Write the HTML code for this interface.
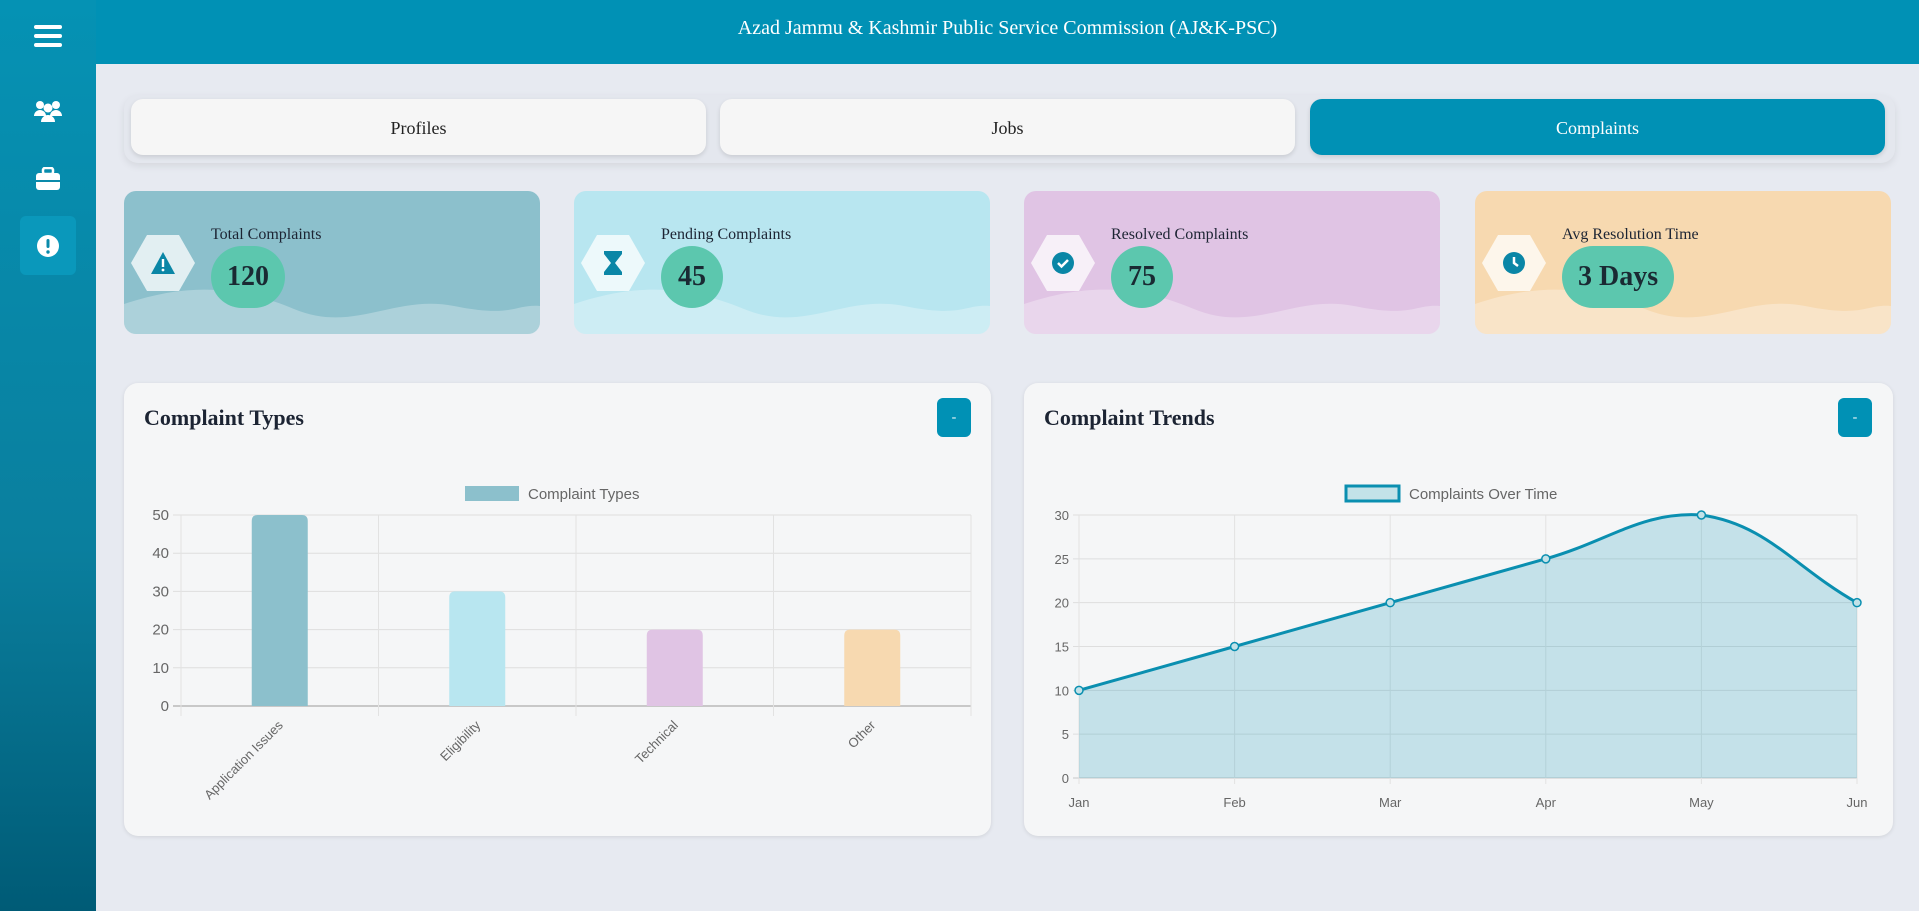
<!DOCTYPE html>
<html><head><meta charset="utf-8">
<style>
*{box-sizing:border-box;margin:0;padding:0}
body{width:1919px;height:911px;overflow:hidden;background:#e7eaf1;font-family:"Liberation Serif",serif;position:relative}
#sidebar{position:absolute;left:0;top:0;width:96px;height:911px;background:linear-gradient(#0592b4,#0a7f9e 60%,#005b76)}
.sicon{position:absolute;left:20px;width:56px;height:56px;display:flex;align-items:center;justify-content:center;border-radius:6px}
#header{position:absolute;left:96px;top:0;width:1823px;height:64px;background:#0091b5;color:#fff;font-size:20px;text-align:center;line-height:56px}
#tabbar{position:absolute;left:124px;top:95px;width:1771px;height:68px;border-radius:14px;background:#e4e7ee;box-shadow:0 3px 8px rgba(0,0,0,.08)}
.tab{position:absolute;top:99px;width:575px;height:56px;border-radius:12px;background:#f6f6f6;box-shadow:0 2px 5px rgba(0,0,0,.12);font-size:18px;color:#222;text-align:center;line-height:58px}
.stat{position:absolute;top:191px;width:416px;height:143px;border-radius:12px;overflow:hidden}
.stat svg.wave{position:absolute;left:0;bottom:0}
.hex{position:absolute;left:7px;top:44px;width:64px;height:56px;clip-path:polygon(25% 0,75% 0,100% 50%,75% 100%,25% 100%,0 50%);background:rgba(255,255,255,.75);display:flex;align-items:center;justify-content:center}
.slabel{position:absolute;left:87px;top:35px;font-size:16px;color:#1c2433}
.sval{position:absolute;left:87px;top:55px;height:62px;padding:0 16px;min-width:62px;border-radius:31px;background:#5cc7ae;font-size:28px;font-weight:bold;color:#1a2a33;line-height:62px;text-align:center}
.card{position:absolute;top:383px;height:453px;border-radius:14px;background:#f5f6f7;box-shadow:0 1px 4px rgba(0,0,0,.1)}
.ctitle{position:absolute;left:20px;top:22px;font-size:22px;font-weight:bold;color:#1c2433}
.cbtn{position:absolute;top:15px;width:34px;height:39px;border-radius:6px;background:#0091b5;color:#fff;text-align:center;line-height:39px;font-size:14px}
svg text{font-family:"Liberation Sans",sans-serif}
</style></head><body>
<div id="sidebar">
 <div class="sicon" style="top:8px"><svg width="28" height="24"><rect y="1" width="28" height="4" rx="2" fill="#fff"/><rect y="10" width="28" height="4" rx="2" fill="#fff"/><rect y="19" width="28" height="4" rx="2" fill="#fff"/></svg></div>
 <div class="sicon" style="top:83px"><svg width="30" height="24"><circle cx="7" cy="6" r="4" fill="#fff"/><circle cx="23" cy="6" r="4" fill="#fff"/><circle cx="15" cy="9" r="4.5" fill="#fff"/><path d="M1 17a6 6 0 0 1 12 0zM17 17a6 6 0 0 1 12 0zM8 23a7 7 0 0 1 14 0z" fill="#fff"/></svg></div>
 <div class="sicon" style="top:151px"><svg width="26" height="24"><rect x="8" y="1" width="10" height="6" rx="2" fill="none" stroke="#fff" stroke-width="2.5"/><rect x="1" y="6" width="24" height="17" rx="3" fill="#fff"/><rect x="1" y="13" width="24" height="2" fill="#0a8aaa"/></svg></div>
 <div class="sicon" style="top:216px;background:#0a98bb;height:59px"><svg width="24" height="24"><circle cx="12" cy="12" r="11" fill="#fff"/><rect x="10.5" y="5" width="3" height="9" rx="1.5" fill="#0a8aaa"/><circle cx="12" cy="18" r="1.7" fill="#0a8aaa"/></svg></div>
</div>
<div id="header">Azad Jammu &amp; Kashmir Public Service Commission (AJ&amp;K-PSC)</div>
<div id="tabbar"></div>
<div class="tab" style="left:131px">Profiles</div>
<div class="tab" style="left:720px">Jobs</div>
<div class="tab" style="left:1310px;background:#0091b5;color:#fff">Complaints</div>

<div class="stat" style="left:124px;background:#8cc0cc">
 <svg class="wave" width="416" height="50"><path d="M0 20 C60 0 110 0 170 25 S270 10 330 22 S390 20 416 22 V50 H0Z" fill="rgba(255,255,255,.28)"/></svg>
 <div class="hex"><svg width="26" height="24"><path d="M13 1L25 23H1Z" fill="#0a86a6"/><rect x="11.8" y="8" width="2.4" height="8" fill="#fff"/><circle cx="13" cy="19" r="1.4" fill="#fff"/></svg></div>
 <div class="slabel">Total Complaints</div><div class="sval">120</div>
</div>
<div class="stat" style="left:574px;background:#b8e6f0">
 <svg class="wave" width="416" height="50"><path d="M0 20 C60 0 110 0 170 25 S270 10 330 22 S390 20 416 22 V50 H0Z" fill="rgba(255,255,255,.3)"/></svg>
 <div class="hex"><svg width="20" height="26"><path d="M1 1H19V4L12 13L19 22V25H1V22L8 13L1 4Z" fill="#0a86a6"/></svg></div>
 <div class="slabel">Pending Complaints</div><div class="sval">45</div>
</div>
<div class="stat" style="left:1024px;background:#e0c4e4">
 <svg class="wave" width="416" height="50"><path d="M0 20 C60 0 110 0 170 25 S270 10 330 22 S390 20 416 22 V50 H0Z" fill="rgba(255,255,255,.3)"/></svg>
 <div class="hex"><svg width="24" height="24"><circle cx="12" cy="12" r="11" fill="#0a86a6"/><path d="M7 12l3.5 3.5L17 9" stroke="#fff" stroke-width="2.5" fill="none"/></svg></div>
 <div class="slabel">Resolved Complaints</div><div class="sval">75</div>
</div>
<div class="stat" style="left:1475px;background:#f7d9b0">
 <svg class="wave" width="416" height="50"><path d="M0 20 C60 0 110 0 170 25 S270 10 330 22 S390 20 416 22 V50 H0Z" fill="rgba(255,255,255,.3)"/></svg>
 <div class="hex"><svg width="24" height="24"><circle cx="12" cy="12" r="11" fill="#0a86a6"/><path d="M12 6v6l4 3" stroke="#fff" stroke-width="2.5" fill="none"/></svg></div>
 <div class="slabel">Avg Resolution Time</div><div class="sval">3 Days</div>
</div>

<div class="card" style="left:124px;width:867px">
 <div class="ctitle">Complaint Types</div>
 <div class="cbtn" style="left:813px">-</div>
</div>
<div class="card" style="left:1024px;width:869px">
 <div class="ctitle">Complaint Trends</div>
 <div class="cbtn" style="left:814px">-</div>
</div>
<svg id="charts" width="1919" height="911" style="position:absolute;left:0;top:0"></svg>
<script>
const barCategories=["Application Issues","Eligibility","Technical","Other"];
const barValues=[50,30,20,20];
const barColors=["#8cc0cc","#b8e6f0","#e0c4e4","#f7d9b0"];
const barTicks=[0,10,20,30,40,50];
const lineLabels=["Jan","Feb","Mar","Apr","May","Jun"];
const lineValues=[10,15,20,25,30,20];
const lineTicks=[0,5,10,15,20,25,30];

const NS="http://www.w3.org/2000/svg";
const svg=document.getElementById('charts');
function mk(t,a,txt){const e=document.createElementNS(NS,t);for(const k in a)e.setAttribute(k,a[k]);if(txt!==undefined)e.textContent=txt;svg.appendChild(e);return e;}

// Bar chart
const bx0=181,bx1=971,by0=706,by1=515,bmax=50;
const bY=v=>by0-(v/bmax)*(by0-by1);
const bw=(bx1-bx0)/barCategories.length;
const bX=i=>bx0+bw*(i+0.5);
barTicks.forEach(t=>{
 const l=mk('line',{x1:bx0-8,x2:bx1,y1:bY(t),y2:bY(t),stroke:t===0?'#c8c8c8':'#dedede','stroke-width':t===0?2:1});
 
 
 const tx=mk('text',{x:bx0-12,y:bY(t)+5,'text-anchor':'end','font-size':15,fill:'#666'},t);
 
 
});
for(let i=0;i<=barCategories.length;i++){
 const l=mk('line',{x1:bx0+bw*i,x2:bx0+bw*i,y1:by1,y2:by0+10,stroke:'#e2e2e2'});
 
 
}
barCategories.forEach((c,i)=>{
 const x=bX(i),w=56,y=bY(barValues[i]);
 const r=mk('path',{d:`M${x-w/2} ${by0} V${y+6} Q${x-w/2} ${y} ${x-w/2+6} ${y} H${x+w/2-6} Q${x+w/2} ${y} ${x+w/2} ${y+6} V${by0}Z`,fill:barColors[i]});
 
 
 const t=mk('text',{x:x+4,y:by0+20,'text-anchor':'end','font-size':13,fill:'#666',transform:`rotate(-45 ${x+4} ${by0+20})`},c);
 
 
});
const lb=mk('rect',{x:465,y:486,width:54,height:15,fill:'#8cc0cc'});


const lbt=mk('text',{x:528,y:499,'font-size':15,fill:'#666'},'Complaint Types');



// Line chart
const lx0=1079,lx1=1857,ly0=778,ly1=515,lmax=30;
const lY=v=>ly0-(v/lmax)*(ly0-ly1);
const lX=i=>lx0+(lx1-lx0)*i/(lineLabels.length-1);
lineTicks.forEach(t=>{
 const l=mk('line',{x1:lx0-6,x2:lx1,y1:lY(t),y2:lY(t),stroke:t===0?'#c8c8c8':'#dedede','stroke-width':1});
 
 
 const tx=mk('text',{x:lx0-10,y:lY(t)+5,'text-anchor':'end','font-size':13,fill:'#666'},t);
 
 
});
lineLabels.forEach((m,i)=>{
 const l=mk('line',{x1:lX(i),x2:lX(i),y1:ly1,y2:ly0+6,stroke:'#e2e2e2'});
 
 
 const t=mk('text',{x:lX(i),y:ly0+29,'text-anchor':'middle','font-size':13,fill:'#666'},m);
 
 
});
const pts=lineValues.map((v,i)=>[lX(i),lY(v)]);
const T=0.4;let d=`M${pts[0][0]} ${pts[0][1]}`;
const cps=pts.map((p,i)=>{
 const prev=pts[i-1]||p,next=pts[i+1]||p;
 const d01=Math.hypot(p[0]-prev[0],p[1]-prev[1]),d12=Math.hypot(next[0]-p[0],next[1]-p[1]);
 let fa=d01/(d01+d12||1),fb=d12/(d01+d12||1);fa*=T;fb*=T;
 return {p:[p[0]-fa*(next[0]-prev[0]),p[1]-fa*(next[1]-prev[1])],n:[p[0]+fb*(next[0]-prev[0]),p[1]+fb*(next[1]-prev[1])]};
});
for(let i=1;i<pts.length;i++){const a=cps[i-1].n,b=cps[i].p;d+=` C${a[0]} ${Math.max(a[1],ly1-4)} ${b[0]} ${Math.max(b[1],ly1-4)} ${pts[i][0]} ${pts[i][1]}`;}
const area=mk('path',{d:d+` L${lx1} ${ly0} L${lx0} ${ly0}Z`,fill:'rgba(0,145,181,0.2)'});


const ln=mk('path',{d:d,fill:'none',stroke:'#0a8fb0','stroke-width':3});


pts.forEach(p=>{
 const c=mk('circle',{cx:p[0],cy:p[1],r:4,fill:'#c3e2e8',stroke:'#0a8fb0','stroke-width':1.5});
 
 
});
const ll=mk('rect',{x:1346,y:486,width:53,height:15,fill:'#c3e2e8',stroke:'#0a8fb0','stroke-width':3});


const llt=mk('text',{x:1409,y:499,'font-size':15,fill:'#666'},'Complaints Over Time');


</script>
</body></html>
